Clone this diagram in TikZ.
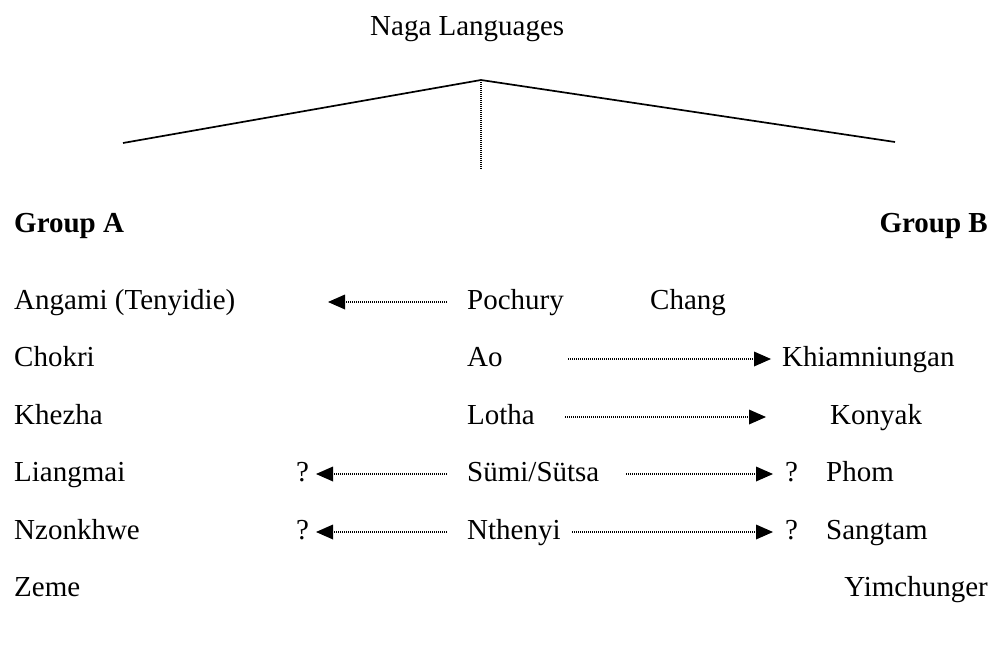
\documentclass[tikz,border=0pt]{standalone}
\usepackage{fontspec}
\setmainfont{Liberation Serif}
\usetikzlibrary{arrows.meta}
\begin{document}
\begin{tikzpicture}[x=1pt,y=-1pt,
  lbl/.style={anchor=base west,inner sep=0pt,font=\fontsize{29}{34}\selectfont},
  lblr/.style={anchor=base east,inner sep=0pt,font=\fontsize{29}{34}\selectfont},
  grp/.style={inner sep=0pt,font=\fontsize{29}{34}\selectfont\bfseries},
  tent/.style={line width=1.7pt},
  dotv/.style={line width=1.2pt,dash pattern=on 1pt off 1pt},
  darr/.style={line width=1.2pt,dash pattern=on 1pt off 1pt,
    -{Triangle[length=17pt,width=15pt,line width=0pt,sep=0pt]}}]
\useasboundingbox (0,0) rectangle (1003,669);
% title and tree
\node[lbl] (title) at (370,36) {Naga Languages};
\coordinate (apex) at (481,80);
\coordinate (lend) at (123,143);
\coordinate (rend) at (895,142);
\coordinate (vend) at (481,170);
\draw[tent] (lend) -- (apex) -- (rend);
\draw[dotv] (apex) -- (vend);
% groups
\node[grp,anchor=base west] (ga) at (14,232) {Group A};
\node[grp,anchor=base east] (gb) at (988,232) {Group B};
% left column
\node[lbl] (angami) at (14,309) {Angami (Tenyidie)};
\node[lbl] (chokri) at (14,366) {Chokri};
\node[lbl] (khezha) at (14,424) {Khezha};
\node[lbl] (liangmai) at (14,481) {Liangmai};
\node[lbl] (nzonkhwe) at (14,539) {Nzonkhwe};
\node[lbl] (zeme) at (14,596) {Zeme};
% middle column
\node[lbl] (pochury) at (467,309) {Pochury};
\node[lbl] (ao) at (467,366) {Ao};
\node[lbl] (lotha) at (467,424) {Lotha};
\node[lbl] (sumi) at (467,481) {Sümi/Sütsa};
\node[lbl] (nthenyi) at (467,539) {Nthenyi};
% right column
\node[lbl] (chang) at (650,309) {Chang};
\node[lbl] (khiam) at (782,366) {Khiamniungan};
\node[lbl] (konyak) at (830,424) {Konyak};
\node[lbl] (phom) at (826,481) {Phom};
\node[lbl] (sangtam) at (826,539) {Sangtam};
\node[lblr] (yimch) at (988,596) {Yimchunger};
% question marks
\node[lbl] (ql4) at (296,481) {?};
\node[lbl] (ql5) at (296,539) {?};
\node[lbl] (qr4) at (785,481) {?};
\node[lbl] (qr5) at (785,539) {?};
% arrow end points
\coordinate (a1s) at (447,302); \coordinate (a1e) at (328,302);
\coordinate (a2s) at (568,359); \coordinate (a2e) at (771,359);
\coordinate (a3s) at (565,417); \coordinate (a3e) at (766,417);
\coordinate (a4ls) at (447,474); \coordinate (a4le) at (316,474);
\coordinate (a4rs) at (626,474); \coordinate (a4re) at (773,474);
\coordinate (a5ls) at (447,532); \coordinate (a5le) at (316,532);
\coordinate (a5rs) at (572,532); \coordinate (a5re) at (773,532);
\draw[darr] (a1s) -- (a1e);
\draw[darr] (a2s) -- (a2e);
\draw[darr] (a3s) -- (a3e);
\draw[darr] (a4ls) -- (a4le);
\draw[darr] (a4rs) -- (a4re);
\draw[darr] (a5ls) -- (a5le);
\draw[darr] (a5rs) -- (a5re);
\end{tikzpicture}
\end{document}
